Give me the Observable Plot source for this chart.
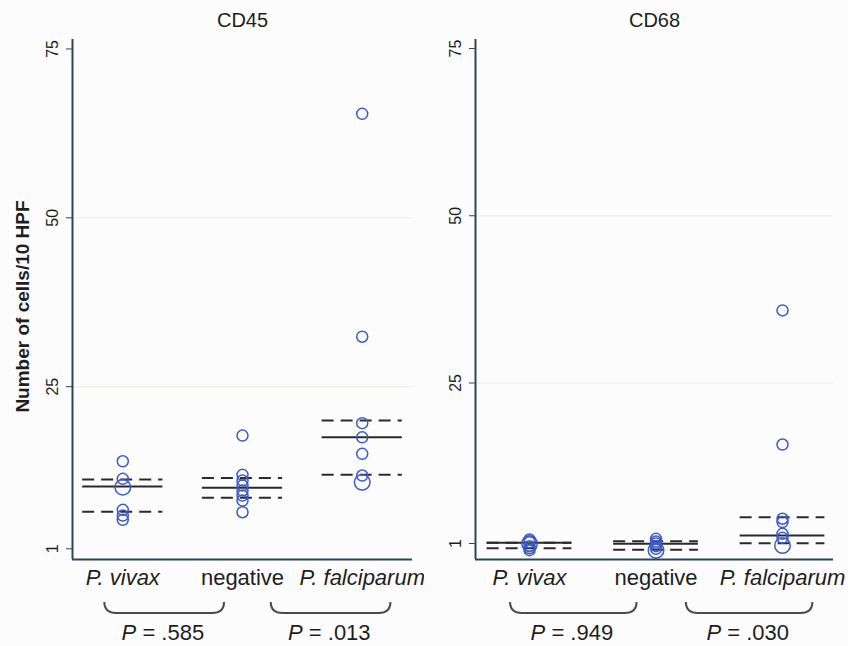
<!DOCTYPE html>
<html><head><meta charset="utf-8">
<script src="https://cdn.jsdelivr.net/npm/d3@7"></script>
<script src="https://cdn.jsdelivr.net/npm/@observablehq/plot@0.6"></script>
<style>
body{margin:0;background:#fcfcfd;}
#chart{display:flex;width:848px;height:646px;overflow:hidden;}
</style></head><body><div id="chart"></div>
<script>
// ---- data ----
const groups = ["P. vivax", "negative", "P. falciparum"];
const yTicks = [1, 25, 50, 75];
const gridValues = [25, 50];
const yLabel = "Number of cells/10 HPF";

// CD45
const cd45Vivax = [13.96, 11.36, 10.12, 6.77, 5.93, 5.29];
const cd45VivaxCount = [1, 1, 2, 1, 1, 1];
const cd45Negative = [17.77, 11.95, 11.11, 10.37, 9.63, 8.89, 8.15, 6.42];
const cd45NegativeCount = [1, 1, 1, 1, 1, 1, 1, 1];
const cd45Falciparum = [65.4, 32.4, 19.6, 17.5, 15.06, 11.85, 10.86];
const cd45FalciparumCount = [1, 1, 1, 1, 1, 1, 2];
const cd45Median = [10.22, 10.03, 17.5];
const cd45Q1 = [6.48, 8.55, 11.95];
const cd45Q3 = [11.26, 11.5, 20.0];
const cd45P = [".585", ".013"];

// CD68
const cd68Vivax = [1.6, 1.2, 1.0, 0.6, 0.3, 0];
const cd68VivaxCount = [1, 1, 2, 1, 1, 1];
const cd68Negative = [1.7, 1.3, 1.0, 0.6, 0.2, 0];
const cd68NegativeCount = [1, 1, 1, 1, 1, 2];
const cd68Falciparum = [35.85, 15.8, 4.7, 4.2, 2.45, 1.85, 0.7];
const cd68FalciparumCount = [1, 1, 1, 1, 1, 1, 2];
const cd68Median = [1.1, 0.95, 2.2];
const cd68Q1 = [0.3, 0.05, 1.05];
const cd68Q3 = [1.1, 1.35, 4.93];
const cd68P = [".949", ".030"];

// ---- style ----
const FONT = "'Liberation Sans', Arial, Helvetica, sans-serif";
const dotColor = "#3b5bc5";
const lineColor = "#2a2a2a";
const axisColor = "#2d4654";
const textColor = "#1e1e1e";
const braceColor = "#4a4a4a";

function panel(cfg) {
  const series = [
    [cfg.vivax, cfg.vivaxCount],
    [cfg.negative, cfg.negativeCount],
    [cfg.falciparum, cfg.falciparumCount]
  ];
  const points = series.flatMap(([vals, counts], gi) => vals.map((v, k) => ({g: gi, v, n: counts[k]})));
  const summary = groups.map((name, gi) => ({g: gi, median: cfg.median[gi], q1: cfg.q1[gi], q3: cfg.q3[gi]}));
  const braces = [
    {a: -0.15, b: 0.85, p: cfg.p[0]},
    {a: 1.24, b: 2.24, p: cfg.p[1]}
  ];
  const hw = 0.335;
  const dash = {stroke: lineColor, strokeWidth: 2, strokeDasharray: "12,7", x1: d => d.g - hw, x2: d => d.g + hw};
  const txt = {fill: textColor, textAnchor: "middle", lineAnchor: "middle"};

  const braceMark = (index, scales, values, dims) => {
    const g = d3.create("svg:g");
    const yb = dims.height - dims.marginBottom;
    for (const b of braces) {
      const x0 = scales.x(b.a), x1 = scales.x(b.b);
      const y0 = yb + 43, y1 = yb + 54, r = 12;
      g.append("path")
        .attr("d", `M${x0},${y0} Q${x0},${y1} ${x0 + r},${y1} L${x1 - r},${y1} Q${x1},${y1} ${x1},${y0}`)
        .attr("fill", "none").attr("stroke", braceColor).attr("stroke-width", 2);
    }
    return g.node();
  };

  const marks = [
    Plot.ruleY(gridValues, {stroke: "#f1ebe4", strokeWidth: 1}),
    Plot.ruleY(summary, {y: "q1", ...dash}),
    Plot.ruleY(summary, {y: "q3", ...dash}),
    Plot.ruleY(summary, {y: "median", stroke: lineColor, strokeWidth: 2, x1: d => d.g - hw, x2: d => d.g + hw}),
    Plot.dot(points, {x: "g", y: "v", r: "n", stroke: dotColor, strokeWidth: 1.5, fill: "none"}),
    Plot.ruleX([cfg.xDomain[0]], {stroke: axisColor, strokeWidth: 2}),
    Plot.ruleY([cfg.yDomain[0]], {stroke: axisColor, strokeWidth: 2}),
    Plot.text(yTicks, {y: d => d, text: d => String(d), frameAnchor: "left", dx: -20, rotate: -90, fontSize: 16, ...txt}),
    Plot.text(groups, {x: (d, i) => i, text: d => d, frameAnchor: "bottom", dy: 18, fontSize: 22, ...txt}),
    Plot.text(braces, {x: d => (d.a + d.b) / 2 - 0.015, text: d => `P = ${d.p}`, frameAnchor: "bottom", dy: 73, fontSize: 22, ...txt}),
    Plot.text([cfg.title], {frameAnchor: "top", dy: -19, fontSize: 20, ...txt}),
    braceMark
  ];
  if (cfg.showYLabel) {
    marks.push(Plot.text([yLabel], {frameAnchor: "left", dx: -50, dy: 7, rotate: -90, fontSize: 19, fontWeight: "bold", ...txt}));
  }

  const svg = Plot.plot({
    width: 424,
    height: 646,
    marginTop: 39,
    marginBottom: 87,
    marginLeft: cfg.marginLeft,
    marginRight: cfg.marginRight,
    style: {background: "#fcfcfd", fontFamily: FONT, fontSize: "16px", color: axisColor, overflow: "visible"},
    x: {domain: cfg.xDomain, axis: null},
    y: {domain: cfg.yDomain, ticks: yTicks, tickSize: 6, tickFormat: () => "", label: null},
    r: {type: "sqrt", domain: [0, 1], range: [0, 5.5]},
    marks
  });

  d3.select(svg).selectAll("text").each(function () {
    const t = this.textContent;
    if (t.startsWith("P = ")) {
      this.textContent = "";
      d3.select(this).append("tspan").attr("font-style", "italic").text("P");
      d3.select(this).append("tspan").text(t.slice(1));
    } else if (t.startsWith("P. ")) {
      this.setAttribute("font-style", "italic");
    }
  });
  return svg;
}

const chart = document.getElementById("chart");
chart.appendChild(panel({
  title: "CD45",
  vivax: cd45Vivax, vivaxCount: cd45VivaxCount,
  negative: cd45Negative, negativeCount: cd45NegativeCount,
  falciparum: cd45Falciparum, falciparumCount: cd45FalciparumCount,
  median: cd45Median, q1: cd45Q1, q3: cd45Q3, p: cd45P,
  xDomain: [-0.42, 2.42], yDomain: [-0.58, 76.4],
  marginLeft: 72, marginRight: 12, showYLabel: true
}));
chart.appendChild(panel({
  title: "CD68",
  vivax: cd68Vivax, vivaxCount: cd68VivaxCount,
  negative: cd68Negative, negativeCount: cd68NegativeCount,
  falciparum: cd68Falciparum, falciparumCount: cd68FalciparumCount,
  median: cd68Median, q1: cd68Q1, q3: cd68Q3, p: cd68P,
  xDomain: [-0.427, 2.403], yDomain: [-1.39, 76.35],
  marginLeft: 51, marginRight: 15, showYLabel: false
}));
</script></body></html>
